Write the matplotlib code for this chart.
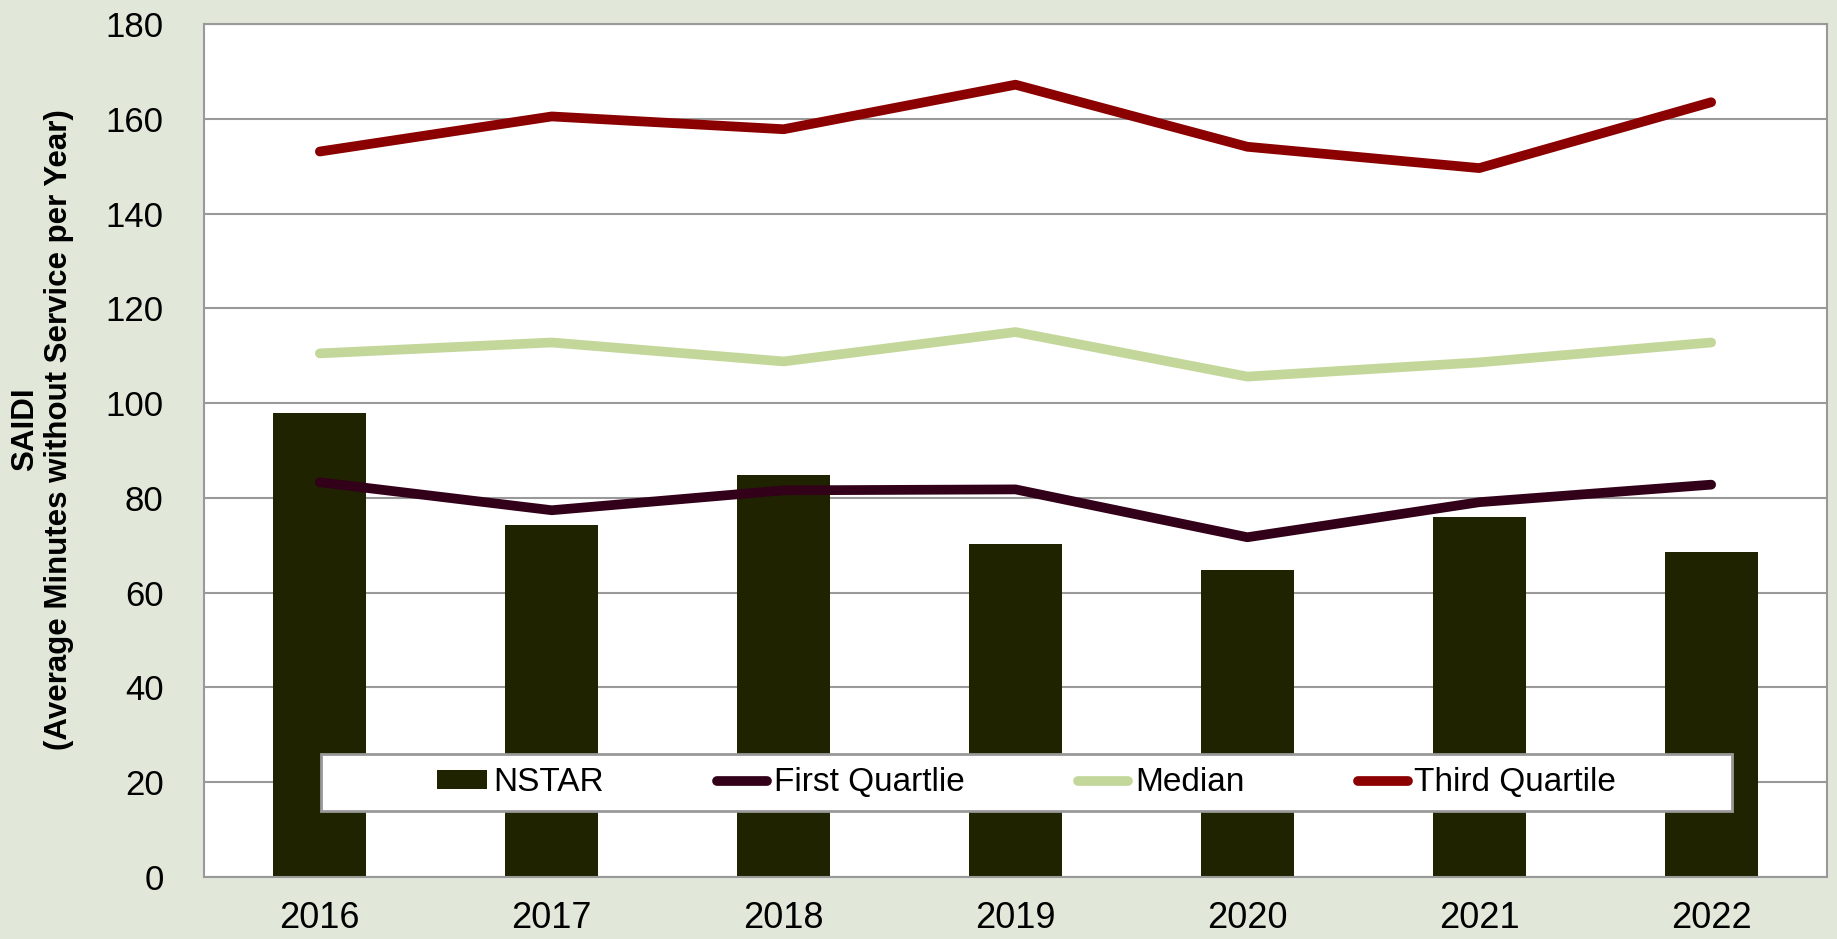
import matplotlib
matplotlib.use("Agg")
import matplotlib.pyplot as plt
from matplotlib.patches import Rectangle
import numpy as np

years = ["2016", "2017", "2018", "2019", "2020", "2021", "2022"]
nstar = [98.0, 74.2, 84.8, 70.2, 64.8, 75.9, 68.5]
first_quartile = [83.3, 77.4, 81.6, 81.8, 71.7, 79.1, 82.8]
median = [110.5, 112.8, 108.8, 115.0, 105.6, 108.6, 112.8]
third_quartile = [153.1, 160.5, 157.8, 167.2, 154.1, 149.6, 163.5]

bg = "#E1E8DA"
plt.rcParams['font.family'] = ['Liberation Sans', 'DejaVu Sans']

fig, ax = plt.subplots(figsize=(18.37, 9.39), dpi=100)
fig.patch.set_facecolor(bg)
fig.subplots_adjust(left=0.111, right=0.9946, top=0.9744, bottom=0.066)

x = np.arange(len(years))
bars = ax.bar(x, nstar, width=0.4, color="#1F2300", label="NSTAR", zorder=2)
line_kw = dict(linewidth=7, solid_capstyle='round', solid_joinstyle='round', zorder=3)
l1, = ax.plot(x, first_quartile, color="#33001A", label="First Quartlie", **line_kw)
l2, = ax.plot(x, median, color="#C4D79B", label="Median", **line_kw)
l3, = ax.plot(x, third_quartile, color="#8B0000", label="Third Quartile", **line_kw)

ax.set_xlim(-0.5, len(years) - 0.5)
ax.set_ylim(0, 180)
ax.set_yticks(range(0, 181, 20))
ax.set_xticks(x)
ax.set_xticklabels(years)
ax.tick_params(axis='both', length=0, labelsize=25)
ax.tick_params(axis='y', pad=29)
ax.tick_params(axis='x', pad=17, labelsize=26)
ax.yaxis.grid(True, color="#999999", linewidth=1.5)
ax.set_axisbelow(True)
for sp in ax.spines.values():
    sp.set_color("#999999")
    sp.set_linewidth(1.5)

ax.set_ylabel("SAIDI\n(Average Minutes without Service per Year)", fontsize=22.5,
              fontweight='bold', linespacing=1.15)
ax.yaxis.set_label_coords(-0.080, 0.525)

# legend box drawn separately, entries centred inside
box = Rectangle((0.072, 0.077), 0.8695, 0.067, transform=ax.transAxes,
                facecolor='white', edgecolor="#999999", linewidth=2, zorder=9)
ax.add_patch(box)
leg = ax.legend([bars, l1, l2, l3], ["NSTAR", "First Quartlie", "Median", "Third Quartile"],
                loc='center', bbox_to_anchor=(0.072 + 0.8695 / 2, 0.077 + 0.067 / 2),
                ncol=4, fontsize=24, frameon=False, borderaxespad=0,
                handlelength=1.5, handletextpad=0.2, handleheight=0.5,
                columnspacing=3.4)
leg.set_zorder(10)

fig.savefig("out.png", dpi=100, facecolor=bg)
